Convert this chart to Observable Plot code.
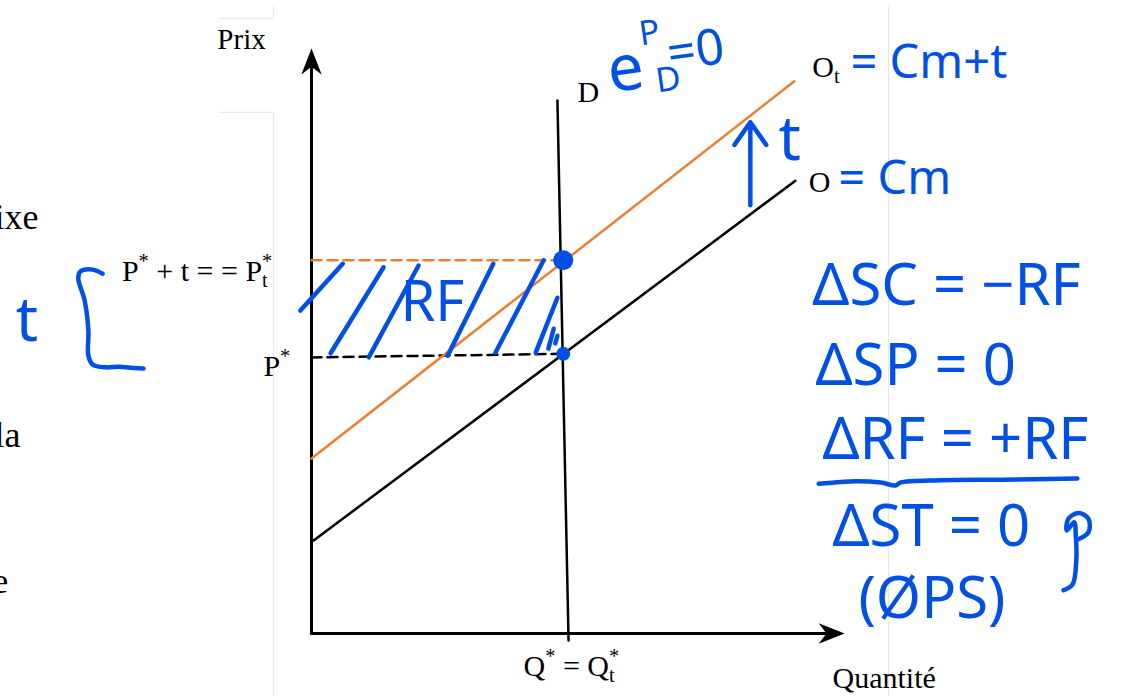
<!DOCTYPE html>
<html>
<head>
<meta charset="utf-8">
<script src="https://cdn.jsdelivr.net/npm/d3@7"></script>
<script src="https://cdn.jsdelivr.net/npm/@observablehq/plot@0.6"></script>
<style>
  body { margin: 0; background: #fff; }
</style>
</head>
<body>
<div id="chart"></div>
<script>
// Per-unit tax on a market with perfectly inelastic demand (price/quantity units 0–100)
const qStar = 47.5;             // equilibrium quantity, the same with or without the tax
const pStar = 47.8;             // equilibrium price before the tax
const tax = 16;                 // per-unit tax t
const pTaxed = pStar + tax;     // P*_t = P* + t

// Curves
const supply = [{q: 0.4, p: 15.9}, {q: 91.3, p: 77.4}];        // O = Cm
const supplyTaxed = [{q: 0, p: 29.9}, {q: 91.1, p: 94.4}];      // O_t = Cm + t
const demand = [{q: 46.4, p: 91.1}, {q: 48.5, p: -1.2}];        // vertical demand D

// Reference levels (dashed) and equilibria
const taxedLevel = [{q: 0, p: pTaxed}, {q: 46.4, p: pTaxed}];
const baseLevel = [{q: 0, p: pStar - 0.6}, {q: 47, p: pStar}];
const equilibria = [{q: qStar, p: pTaxed, kind: "taxed"}, {q: qStar, p: pStar, kind: "base"}];

// Hand-drawn hatching of the tax revenue (RF) rectangle
const hatching = [
  {q1: -2.1, p1: 55.2, q2: 5.9, p2: 63.2},
  {q1: 3.6, p1: 47.9, q2: 13.6, p2: 62.6},
  {q1: 10.8, p1: 47.2, q2: 20.2, p2: 62.9},
  {q1: 25.7, p1: 47.5, q2: 34.3, p2: 63.2},
  {q1: 34.7, p1: 48.0, q2: 43.8, p2: 63.8},
  {q1: 42.3, p1: 48.0, q2: 46.4, p2: 57.4},
  {q1: 44.7, p1: 48.7, q2: 45.7, p2: 52.1},
  {q1: 46.0, p1: 49.6, q2: 46.4, p2: 50.9}
];

// Hand-drawn strokes: the "t" bracket, the total underline and the small hook
const bracket = [
  {q: -39.4, p: 61.5}, {q: -41.3, p: 62.2}, {q: -43.6, p: 61.9}, {q: -44.0, p: 60.7},
  {q: -42.8, p: 56.9}, {q: -42.1, p: 51.8}, {q: -42.1, p: 47.5}, {q: -41.3, p: 46.0},
  {q: -38.9, p: 45.5}, {q: -36.4, p: 45.6}, {q: -35.1, p: 45.5}, {q: -31.7, p: 45.3}
];
const underline = [
  {q: 95.7, p: 25.6}, {q: 101.7, p: 26.0}, {q: 107.4, p: 25.8}, {q: 110.2, p: 25.3},
  {q: 111.1, p: 25.8}, {q: 118.7, p: 26.2}, {q: 130.0, p: 26.3}, {q: 144.5, p: 26.5}
];
const hook = [
  {q: 141.9, p: 7.4}, {q: 143.6, p: 8.4}, {q: 144.3, p: 12.5}, {q: 144.2, p: 16.8},
  {q: 143.9, p: 19.0}, {q: 142.5, p: 17.6}, {q: 142.8, p: 19.6}, {q: 144.7, p: 20.6},
  {q: 146.6, p: 19.6}, {q: 146.6, p: 17.3}, {q: 144.7, p: 16.1}
];
const taxArrow = [{q1: 82.8, p1: 73.2, q2: 82.8, p2: 87.4}];

// Printed labels (sub/superscripts written with _ and ^)
const printedStart = [
  {q: 40.0, p: -7.2, text: "Q^* = Q_t^*"},
  {q: 50.2, p: 90.9, text: "D"},
  {q: 94.5, p: 95.2, text: "O_t"},
  {q: 93.8, p: 75.4, text: "O"},
  {q: 98.3, p: -9.4, text: "Quantité"}
];
const printedEnd = [
  {q: -7.4, p: 60.3, text: "P^* + t = = P_t^*"},
  {q: -4.0, p: 44.1, text: "P^*"}
];
const yTitle = [{q: -13.2, p: 100.0, text: "Prix"}];
const sideText = [
  {q: -51.5, p: 69.2, text: "fixe"},
  {q: -54.9, p: 31.8, text: "la"},
  {q: -57.2, p: 7.0, text: "e"}
];

// Handwritten notes
const balance = [
  {q: 94.5, p: 56.1, text: "ΔSC = −RF"},
  {q: 95.1, p: 42.4, text: "ΔSP = 0"},
  {q: 96.4, p: 29.9, text: "ΔRF = +RF"},
  {q: 98.3, p: 15.0, text: "ΔST = 0"},
  {q: 103.2, p: 2.6, text: "(ØPS)"}
];
const costNotes = [
  {q: 101.7, p: 94.9, text: "= Cm+t"},
  {q: 99.4, p: 75.2, text: "= Cm"}
];
const tNotes = [
  {q: 88.1, p: 80.9, text: "t"},
  {q: -55.8, p: 50.0, text: "t"}
];
const rfNote = [{q: 22.8, p: 56.4, text: "RF"}];
const elasticity = [
  {q: 56.4, p: 92.5, text: "e", size: 64},
  {q: 62.1, p: 100.5, text: "P", size: 34},
  {q: 65.3, p: 92.5, text: "D", size: 34},
  {q: 67.6, p: 96.2, text: "=0", size: 50}
];

// Slide border remnants (faint)
const frame = [
  {q1: -7.2, p1: 89.1, q2: -7.2, p2: -11},
  {q1: -17.5, p1: 89.1, q2: -7.2, p2: 89.1},
  {q1: -7.2, p1: 107.2, q2: -7.2, p2: 105.1},
  {q1: -17.5, p1: 105.1, q2: -7.2, p2: 105.1},
  {q1: 108.9, p1: 107.2, q2: 108.9, p2: -11}
];

// Axes
const yAxis = [{q: 0, p: 0}, {q: 0, p: 98}];
const xAxis = [{q: 0, p: 0}, {q: 99, p: 0}];
const yTip = [{q: 0, p: 100}];
const xTip = [{q: 100.6, p: 0}];

// Filled "stealth" arrowheads; the tip is at the symbol origin
const headUp = {draw(ctx, size) {
  const r = Math.sqrt(size / Math.PI);
  ctx.moveTo(0, 0); ctx.lineTo(0.78 * r, 2 * r); ctx.lineTo(0, 1.4 * r); ctx.lineTo(-0.78 * r, 2 * r); ctx.closePath();
}};
const headRight = {draw(ctx, size) {
  const r = Math.sqrt(size / Math.PI);
  ctx.moveTo(0, 0); ctx.lineTo(-2 * r, 0.78 * r); ctx.lineTo(-1.4 * r, 0); ctx.lineTo(-2 * r, -0.78 * r); ctx.closePath();
}};

const BLUE = "#0050e6";
const ORANGE = "#ed7d31";
const SERIF = "Liberation Serif, Times New Roman, serif";
const HAND = "Noto Sans, DejaVu Sans, sans-serif";

const chart = Plot.plot({
  width: 1139,
  height: 696,
  margin: 0,
  style: {background: "#fff"},
  x: {domain: [0, 100], range: [311, 841], axis: null},
  y: {domain: [0, 100], range: [633, 48], axis: null},
  marks: [
    Plot.link(frame, {x1: "q1", y1: "p1", x2: "q2", y2: "p2", stroke: "#e4e4e4", strokeWidth: 1}),
    Plot.line(yAxis, {x: "q", y: "p", stroke: "#000", strokeWidth: 3}),
    Plot.line(xAxis, {x: "q", y: "p", stroke: "#000", strokeWidth: 3}),
    Plot.dot(yTip, {x: "q", y: "p", r: 13, symbol: headUp, fill: "#000", stroke: null}),
    Plot.dot(xTip, {x: "q", y: "p", r: 13, symbol: headRight, fill: "#000", stroke: null}),
    Plot.line(taxedLevel, {x: "q", y: "p", stroke: ORANGE, strokeWidth: 2.5, strokeDasharray: "10,6"}),
    Plot.line(baseLevel, {x: "q", y: "p", stroke: "#000", strokeWidth: 2.5, strokeDasharray: "10,6"}),
    Plot.line(supply, {x: "q", y: "p", stroke: "#000", strokeWidth: 2.5}),
    Plot.line(supplyTaxed, {x: "q", y: "p", stroke: ORANGE, strokeWidth: 2.5}),
    Plot.line(demand, {x: "q", y: "p", stroke: "#000", strokeWidth: 2.5}),
    Plot.link(hatching, {x1: "q1", y1: "p1", x2: "q2", y2: "p2", stroke: BLUE, strokeWidth: 4.5, strokeLinecap: "round"}),
    Plot.dot(equilibria.filter(d => d.kind === "taxed"), {x: "q", y: "p", r: 10, fill: BLUE, stroke: null}),
    Plot.dot(equilibria.filter(d => d.kind === "base"), {x: "q", y: "p", r: 7, fill: BLUE, stroke: null}),
    Plot.line(bracket, {x: "q", y: "p", curve: "catmull-rom", stroke: BLUE, strokeWidth: 4.5, strokeLinecap: "round", strokeLinejoin: "round"}),
    Plot.line(underline, {x: "q", y: "p", curve: "catmull-rom", stroke: BLUE, strokeWidth: 4.5, strokeLinecap: "round"}),
    Plot.line(hook, {x: "q", y: "p", curve: "catmull-rom", stroke: BLUE, strokeWidth: 4.5, strokeLinecap: "round", strokeLinejoin: "round"}),
    Plot.arrow(taxArrow, {x1: "q1", y1: "p1", x2: "q2", y2: "p2", stroke: BLUE, strokeWidth: 4.5, headLength: 18, headAngle: 70}),
    Plot.text(printedStart, {x: "q", y: "p", text: "text", textAnchor: "start", lineAnchor: "bottom", fontFamily: SERIF, fontSize: 30, fill: "#000"}),
    Plot.text(printedEnd, {x: "q", y: "p", text: "text", textAnchor: "end", lineAnchor: "bottom", fontFamily: SERIF, fontSize: 30, fill: "#000"}),
    Plot.text(yTitle, {x: "q", y: "p", text: "text", textAnchor: "middle", lineAnchor: "bottom", fontFamily: SERIF, fontSize: 29, fill: "#000"}),
    Plot.text(sideText, {x: "q", y: "p", text: "text", textAnchor: "end", lineAnchor: "bottom", fontFamily: SERIF, fontSize: 36, fill: "#000"}),
    Plot.text(balance, {x: "q", y: "p", text: "text", textAnchor: "start", lineAnchor: "bottom", fontFamily: HAND, fontSize: 58, fill: BLUE}),
    Plot.text(costNotes, {x: "q", y: "p", text: "text", textAnchor: "start", lineAnchor: "bottom", fontFamily: HAND, fontSize: 47, fill: BLUE}),
    Plot.text(tNotes, {x: "q", y: "p", text: "text", textAnchor: "start", lineAnchor: "bottom", fontFamily: HAND, fontSize: 62, fill: BLUE}),
    Plot.text(rfNote, {x: "q", y: "p", text: "text", textAnchor: "middle", lineAnchor: "middle", fontFamily: HAND, fontSize: 56, fill: BLUE}),
    Plot.text(elasticity, {x: "q", y: "p", text: "text", textAnchor: "start", lineAnchor: "bottom", fontFamily: HAND, fontSize: d => d.size, fill: BLUE, rotate: -8})
  ]
});

document.getElementById("chart").appendChild(chart);

// Turn "_x" / "^x" markers into subscript / superscript tspans
function applyScripts(svg) {
  const NS = "http://www.w3.org/2000/svg";
  for (const node of svg.querySelectorAll("text")) {
    const s = node.textContent;
    if (!/[\^_]/.test(s)) continue;
    const fs = parseFloat(getComputedStyle(node).fontSize);
    node.textContent = "";
    let cur = 0, last = null, lastKind = null;
    for (let i = 0; i < s.length; ) {
      const c = s[i];
      const span = document.createElementNS(NS, "tspan");
      let target, kind;
      if (c === "^" || c === "_") {
        kind = c;
        span.textContent = s[i + 1];
        i += 2;
        target = c === "^" ? -0.42 * fs : 0.2 * fs;
        span.setAttribute("font-size", 0.68 * fs);
      } else {
        let j = i;
        while (j < s.length && s[j] !== "^" && s[j] !== "_") j++;
        span.textContent = s.slice(i, j);
        i = j;
        kind = "n";
        target = 0;
      }
      span.setAttribute("dy", target - cur);
      cur = target;
      node.appendChild(span);
      if (kind === "^" && lastKind === "_") span.setAttribute("dx", -last.getComputedTextLength());
      last = span;
      lastKind = kind;
    }
  }
}
applyScripts(chart);
</script>
</body>
</html>
